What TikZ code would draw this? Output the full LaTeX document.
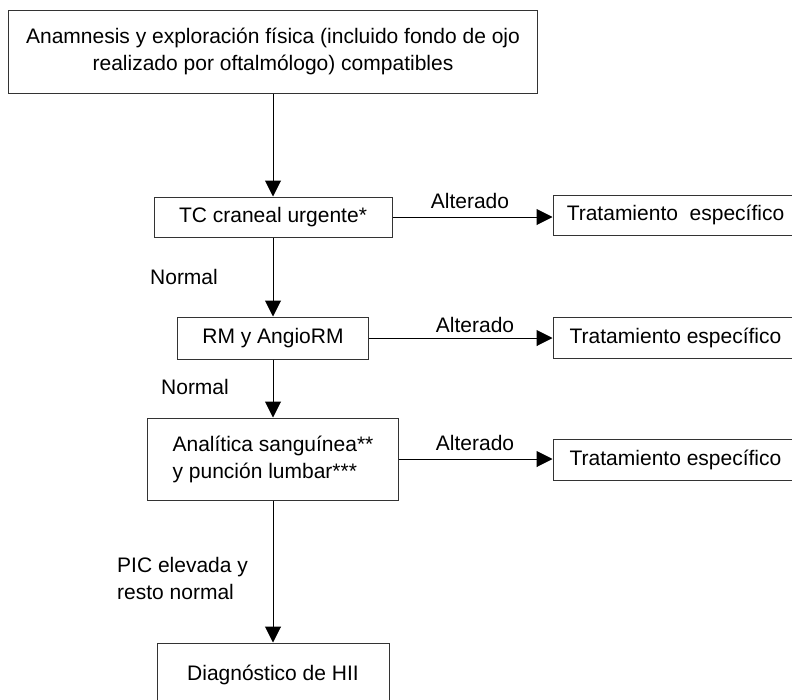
\documentclass[tikz,border=0pt]{standalone}
\usepackage{fontspec}
\setmainfont{Liberation Sans}
\usetikzlibrary{arrows.meta}

\begin{document}
\begin{tikzpicture}
            [every node/.style={inner sep=0pt, font=\fontsize{21}{27}\selectfont},
             box/.style={rectangle, draw=black!80, line width=1pt, fill=white},
             flow/.style={line width=1pt, color=black, -{Triangle[length=16pt, width=16pt]}}]
                \useasboundingbox (0pt, 0pt) rectangle (792pt, -699pt);
                \node (1) [box, minimum width=529pt, minimum height=83pt, align=center] at (273pt, -51.5pt) {Anamnesis y exploración física (incluido fondo de ojo\\realizado por oftalmólogo) compatibles};
                \node (2) [box, minimum width=238pt, minimum height=40pt] at (273pt, -217pt) {TC craneal urgente*};
                \node (3) [box, minimum width=191pt, minimum height=42pt] at (273pt, -338pt) {RM y AngioRM};
                \node (4) [box, minimum width=251pt, minimum height=82pt, align=left] at (273pt, -459pt) {Analítica sanguínea**\\y punción lumbar***};
                \node (5) [box, minimum width=232pt, minimum height=64pt] at (273pt, -675pt) {Diagnóstico de HII};
                \node (6) [box, minimum width=245pt, minimum height=40pt] at (675.5pt, -215pt) {Tratamiento~ específico};
                \node (7) [box, minimum width=245pt, minimum height=41pt] at (675.5pt, -337.5pt) {Tratamiento específico};
                \node (8) [box, minimum width=245pt, minimum height=41pt] at (675.5pt, -459.5pt) {Tratamiento específico};
                \draw [flow] (1) to (2);
                \draw [flow] (2) to (3);
                \draw [flow] (3) to (4);
                \draw [flow] (4) to (5);
                \draw [flow] (2.east) to (2.east -| 6.west);
                \draw [flow] (3.east) to (3.east -| 7.west);
                \draw [flow] (4.east) to (4.east -| 8.west);
                \node at (470pt, -201pt) {Alterado};
                \node at (475pt, -325pt) {Alterado};
                \node at (475pt, -443pt) {Alterado};
                \node at (184pt, -277pt) {Normal};
                \node at (195pt, -387pt) {Normal};
                \node [anchor=west, align=left] at (117pt, -578pt) {PIC elevada y\\resto normal};
            \end{tikzpicture}
\end{document}
